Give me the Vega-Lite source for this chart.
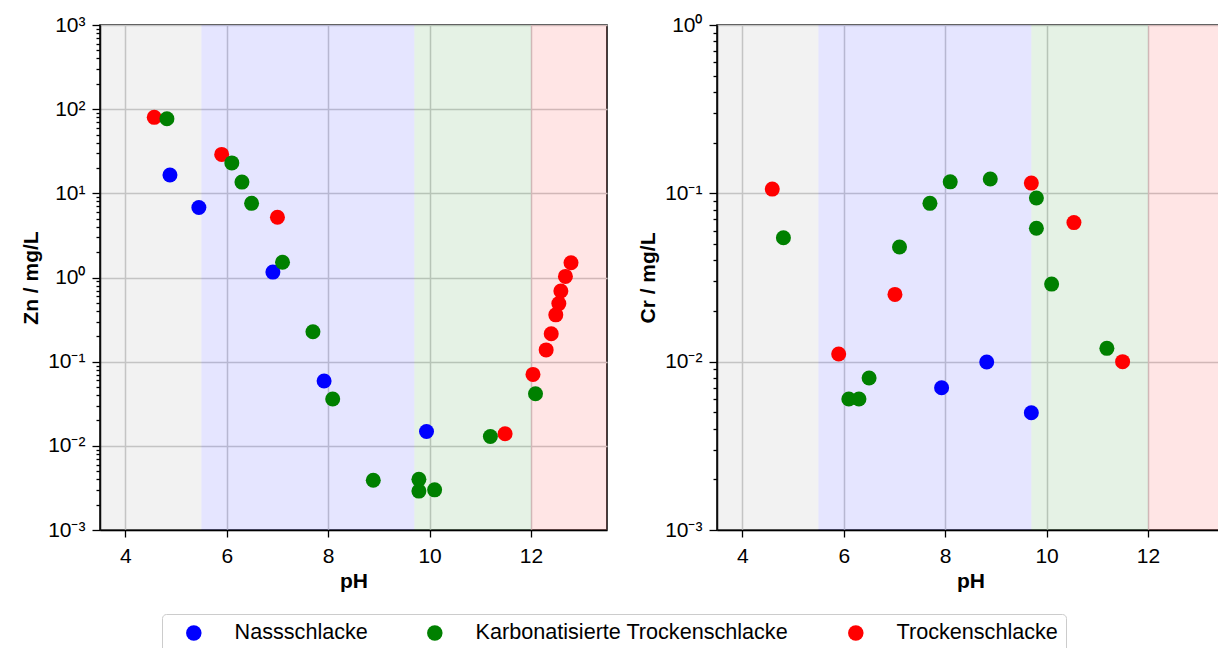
{
  "$schema": "https://vega.github.io/schema/vega-lite/v6.json",
  "padding": {"left": 19, "top": 13, "right": 0, "bottom": 0},
  "spacing": 110,
  "bounds": "flush",
  "datasets": {
    "bands": [
      {"von": 3.5, "bis": 5.5, "zone": "sauer"},
      {"von": 5.5, "bis": 9.7, "zone": "neutral"},
      {"von": 9.7, "bis": 12.0, "zone": "alkalisch"},
      {"von": 12.0, "bis": 13.5, "zone": "stark alkalisch"}
    ],
    "punkte": [
      {"metall": "Zn", "schlacke": "Trockenschlacke", "pH": 4.57, "konz": 80},
      {"metall": "Zn", "schlacke": "Trockenschlacke", "pH": 5.9, "konz": 29},
      {"metall": "Zn", "schlacke": "Trockenschlacke", "pH": 7.0, "konz": 5.2},
      {"metall": "Zn", "schlacke": "Trockenschlacke", "pH": 11.49, "konz": 0.0139},
      {"metall": "Zn", "schlacke": "Trockenschlacke", "pH": 12.04, "konz": 0.0706},
      {"metall": "Zn", "schlacke": "Trockenschlacke", "pH": 12.3, "konz": 0.138},
      {"metall": "Zn", "schlacke": "Trockenschlacke", "pH": 12.4, "konz": 0.215},
      {"metall": "Zn", "schlacke": "Trockenschlacke", "pH": 12.49, "konz": 0.36},
      {"metall": "Zn", "schlacke": "Trockenschlacke", "pH": 12.55, "konz": 0.49},
      {"metall": "Zn", "schlacke": "Trockenschlacke", "pH": 12.59, "konz": 0.69},
      {"metall": "Zn", "schlacke": "Trockenschlacke", "pH": 12.68, "konz": 1.03},
      {"metall": "Zn", "schlacke": "Trockenschlacke", "pH": 12.79, "konz": 1.5},
      {"metall": "Zn", "schlacke": "Nassschlacke", "pH": 4.88, "konz": 16.5},
      {"metall": "Zn", "schlacke": "Nassschlacke", "pH": 5.45, "konz": 6.8},
      {"metall": "Zn", "schlacke": "Nassschlacke", "pH": 6.91, "konz": 1.16},
      {"metall": "Zn", "schlacke": "Nassschlacke", "pH": 7.92, "konz": 0.059},
      {"metall": "Zn", "schlacke": "Nassschlacke", "pH": 9.94, "konz": 0.0148},
      {"metall": "Zn", "schlacke": "Karbonatisierte Trockenschlacke", "pH": 4.82, "konz": 77},
      {"metall": "Zn", "schlacke": "Karbonatisierte Trockenschlacke", "pH": 6.1, "konz": 23},
      {"metall": "Zn", "schlacke": "Karbonatisierte Trockenschlacke", "pH": 6.3, "konz": 13.6},
      {"metall": "Zn", "schlacke": "Karbonatisierte Trockenschlacke", "pH": 6.49, "konz": 7.6},
      {"metall": "Zn", "schlacke": "Karbonatisierte Trockenschlacke", "pH": 7.1, "konz": 1.52},
      {"metall": "Zn", "schlacke": "Karbonatisierte Trockenschlacke", "pH": 7.7, "konz": 0.227},
      {"metall": "Zn", "schlacke": "Karbonatisierte Trockenschlacke", "pH": 8.09, "konz": 0.036},
      {"metall": "Zn", "schlacke": "Karbonatisierte Trockenschlacke", "pH": 8.89, "konz": 0.0039},
      {"metall": "Zn", "schlacke": "Karbonatisierte Trockenschlacke", "pH": 9.79, "konz": 0.004},
      {"metall": "Zn", "schlacke": "Karbonatisierte Trockenschlacke", "pH": 9.79, "konz": 0.0029},
      {"metall": "Zn", "schlacke": "Karbonatisierte Trockenschlacke", "pH": 10.1, "konz": 0.003},
      {"metall": "Zn", "schlacke": "Karbonatisierte Trockenschlacke", "pH": 11.2, "konz": 0.0129},
      {"metall": "Zn", "schlacke": "Karbonatisierte Trockenschlacke", "pH": 12.09, "konz": 0.0416},
      {"metall": "Cr", "schlacke": "Trockenschlacke", "pH": 4.59, "konz": 0.106},
      {"metall": "Cr", "schlacke": "Trockenschlacke", "pH": 5.9, "konz": 0.0111},
      {"metall": "Cr", "schlacke": "Trockenschlacke", "pH": 7.01, "konz": 0.0251},
      {"metall": "Cr", "schlacke": "Trockenschlacke", "pH": 9.7, "konz": 0.115},
      {"metall": "Cr", "schlacke": "Trockenschlacke", "pH": 10.54, "konz": 0.067},
      {"metall": "Cr", "schlacke": "Trockenschlacke", "pH": 11.5, "konz": 0.01},
      {"metall": "Cr", "schlacke": "Nassschlacke", "pH": 7.93, "konz": 0.007},
      {"metall": "Cr", "schlacke": "Nassschlacke", "pH": 8.82, "konz": 0.00995},
      {"metall": "Cr", "schlacke": "Nassschlacke", "pH": 9.7, "konz": 0.00497},
      {"metall": "Cr", "schlacke": "Karbonatisierte Trockenschlacke", "pH": 4.81, "konz": 0.0545},
      {"metall": "Cr", "schlacke": "Karbonatisierte Trockenschlacke", "pH": 6.1, "konz": 0.006},
      {"metall": "Cr", "schlacke": "Karbonatisierte Trockenschlacke", "pH": 6.3, "konz": 0.006},
      {"metall": "Cr", "schlacke": "Karbonatisierte Trockenschlacke", "pH": 6.5, "konz": 0.008},
      {"metall": "Cr", "schlacke": "Karbonatisierte Trockenschlacke", "pH": 7.1, "konz": 0.048},
      {"metall": "Cr", "schlacke": "Karbonatisierte Trockenschlacke", "pH": 7.7, "konz": 0.0872},
      {"metall": "Cr", "schlacke": "Karbonatisierte Trockenschlacke", "pH": 8.1, "konz": 0.117},
      {"metall": "Cr", "schlacke": "Karbonatisierte Trockenschlacke", "pH": 8.89, "konz": 0.1217},
      {"metall": "Cr", "schlacke": "Karbonatisierte Trockenschlacke", "pH": 9.8, "konz": 0.0938},
      {"metall": "Cr", "schlacke": "Karbonatisierte Trockenschlacke", "pH": 9.8, "konz": 0.062},
      {"metall": "Cr", "schlacke": "Karbonatisierte Trockenschlacke", "pH": 10.1, "konz": 0.0289},
      {"metall": "Cr", "schlacke": "Karbonatisierte Trockenschlacke", "pH": 11.19, "konz": 0.012}
    ]
  },
  "hconcat": [
    {
      "width": 507,
      "height": 505,
      "layer": [
        {
          "data": {"name": "bands"},
          "mark": {"type": "rect", "opacity": 0.1},
          "encoding": {
            "x": {"field": "von", "type": "quantitative", "scale": {"domain": [3.5, 13.5], "nice": false, "zero": false}, "axis": {"title": "pH", "values": [4, 6, 8, 10, 12], "tickSize": 7, "labelPadding": 8, "titlePadding": 4, "grid": true}},
            "x2": {"field": "bis"},
            "fill": {"field": "zone", "type": "nominal", "scale": {"domain": ["sauer", "neutral", "alkalisch", "stark alkalisch"], "range": ["#808080", "#0000ff", "#008000", "#ff0000"]}, "legend": null}
          }
        },
        {
          "data": {"name": "punkte"},
          "transform": [{"filter": "datum.metall == 'Zn'"}],
          "mark": {"type": "circle", "size": 225, "opacity": 1},
          "encoding": {
            "x": {"field": "pH", "type": "quantitative", "scale": {"domain": [3.5, 13.5], "nice": false, "zero": false}, "axis": {"title": "pH", "values": [4, 6, 8, 10, 12], "tickSize": 7, "labelPadding": 8, "titlePadding": 4, "grid": true}},
            "y": {
              "field": "konz", "type": "quantitative",
              "scale": {"type": "log", "domain": [0.001, 1000], "nice": false},
              "axis": {
                "title": "Zn / mg/L",
                "orient": "left",
                "values": [0.001, 0.002, 0.003, 0.004, 0.005, 0.006, 0.007, 0.008, 0.009, 0.01, 0.02, 0.03, 0.04, 0.05, 0.06, 0.07, 0.08, 0.09, 0.1, 0.2, 0.3, 0.4, 0.5, 0.6, 0.7, 0.8, 0.9, 1, 2, 3, 4, 5, 6, 7, 8, 9, 10, 20, 30, 40, 50, 60, 70, 80, 90, 100, 200, 300, 400, 500, 600, 700, 800, 900, 1000],
                "labelExpr": "abs(log(datum.value)/LN10 - round(log(datum.value)/LN10)) < 0.001 ? (datum.value > 500 ? '10³' : datum.value > 50 ? '10²' : datum.value > 5 ? '10¹' : datum.value > 0.5 ? '10⁰' : datum.value > 0.05 ? '10⁻¹' : datum.value > 0.005 ? '10⁻²' : '10⁻³') : ''",
                "tickSize": {"condition": {"test": "abs(log(datum.value)/LN10 - round(log(datum.value)/LN10)) < 0.001", "value": 8}, "value": 4},
                "gridOpacity": {"condition": {"test": "abs(log(datum.value)/LN10 - round(log(datum.value)/LN10)) < 0.001", "value": 1}, "value": 0},
                "labelPadding": 7,
                "titlePadding": 6,
                "grid": true
              }
            },
            "color": {
              "field": "schlacke", "type": "nominal",
              "scale": {"domain": ["Nassschlacke", "Karbonatisierte Trockenschlacke", "Trockenschlacke"], "range": ["#0000ff", "#008000", "#ff0000"]},
              "legend": {"title": null, "orient": "none", "legendX": 62, "legendY": 589, "direction": "horizontal", "columns": 3, "symbolType": "circle", "symbolSize": 240, "symbolStrokeWidth": 0, "symbolOpacity": 1, "labelFontSize": 21.6, "labelFont": "Liberation Sans", "labelColor": "black", "labelOffset": 30, "symbolOffset": 13, "columnPadding": 43, "padding": 8, "strokeColor": "#cccccc", "fillColor": "white", "cornerRadius": 4, "labelLimit": 500}
            }
          }
        }
      ]
    },
    {
      "width": 507,
      "height": 505,
      "layer": [
        {
          "data": {"name": "bands"},
          "mark": {"type": "rect", "opacity": 0.1},
          "encoding": {
            "x": {"field": "von", "type": "quantitative", "scale": {"domain": [3.5, 13.5], "nice": false, "zero": false}, "axis": {"title": "pH", "values": [4, 6, 8, 10, 12], "tickSize": 7, "labelPadding": 8, "titlePadding": 4, "grid": true}},
            "x2": {"field": "bis"},
            "fill": {"field": "zone", "type": "nominal", "scale": {"domain": ["sauer", "neutral", "alkalisch", "stark alkalisch"], "range": ["#808080", "#0000ff", "#008000", "#ff0000"]}, "legend": null}
          }
        },
        {
          "data": {"name": "punkte"},
          "transform": [{"filter": "datum.metall == 'Cr'"}],
          "mark": {"type": "circle", "size": 225, "opacity": 1},
          "encoding": {
            "x": {"field": "pH", "type": "quantitative", "scale": {"domain": [3.5, 13.5], "nice": false, "zero": false}, "axis": {"title": "pH", "values": [4, 6, 8, 10, 12], "tickSize": 7, "labelPadding": 8, "titlePadding": 4, "grid": true}},
            "y": {
              "field": "konz", "type": "quantitative",
              "scale": {"type": "log", "domain": [0.001, 1], "nice": false},
              "axis": {
                "title": "Cr / mg/L",
                "orient": "left",
                "values": [0.001, 0.002, 0.003, 0.004, 0.005, 0.006, 0.007, 0.008, 0.009, 0.01, 0.02, 0.03, 0.04, 0.05, 0.06, 0.07, 0.08, 0.09, 0.1, 0.2, 0.3, 0.4, 0.5, 0.6, 0.7, 0.8, 0.9, 1],
                "labelExpr": "abs(log(datum.value)/LN10 - round(log(datum.value)/LN10)) < 0.001 ? (datum.value > 0.5 ? '10⁰' : datum.value > 0.05 ? '10⁻¹' : datum.value > 0.005 ? '10⁻²' : '10⁻³') : ''",
                "tickSize": {"condition": {"test": "abs(log(datum.value)/LN10 - round(log(datum.value)/LN10)) < 0.001", "value": 8}, "value": 4},
                "gridOpacity": {"condition": {"test": "abs(log(datum.value)/LN10 - round(log(datum.value)/LN10)) < 0.001", "value": 1}, "value": 0},
                "labelPadding": 7,
                "titlePadding": 6,
                "grid": true
              }
            },
            "color": {
              "field": "schlacke", "type": "nominal",
              "scale": {"domain": ["Nassschlacke", "Karbonatisierte Trockenschlacke", "Trockenschlacke"], "range": ["#0000ff", "#008000", "#ff0000"]},
              "legend": {"title": null, "orient": "none", "legendX": 62, "legendY": 589, "direction": "horizontal", "columns": 3, "symbolType": "circle", "symbolSize": 240, "symbolStrokeWidth": 0, "symbolOpacity": 1, "labelFontSize": 21.6, "labelFont": "Liberation Sans", "labelColor": "black", "labelOffset": 30, "symbolOffset": 13, "columnPadding": 43, "padding": 8, "strokeColor": "#cccccc", "fillColor": "white", "cornerRadius": 4, "labelLimit": 500}
            }
          }
        }
      ]
    }
  ],
  "resolve": {"scale": {"y": "independent", "color": "shared", "fill": "shared"}, "legend": {"color": "shared"}},
  "config": {
    "font": "Liberation Sans",
    "view": {"stroke": "black", "strokeWidth": 1.5},
    "axis": {
      "labelFont": "Liberation Sans", "labelFontSize": 21, "labelColor": "black",
      "titleFont": "Liberation Sans", "titleFontSize": 21, "titleFontWeight": "bold", "titleColor": "black",
      "domainColor": "black", "domainWidth": 1.5, "tickColor": "black", "tickWidth": 1.3,
      "gridColor": "#cccccc", "gridWidth": 1.5, "labelOverlap": false, "labelFlush": false
    }
  }
}
